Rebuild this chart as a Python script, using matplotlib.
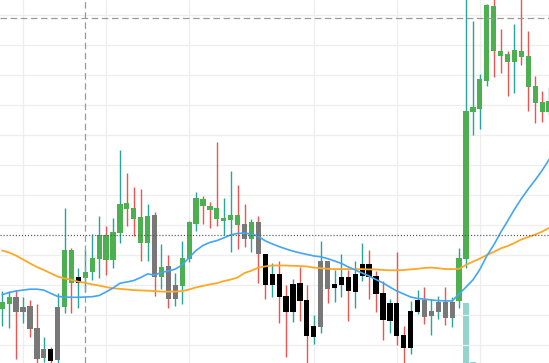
import matplotlib
matplotlib.use("Agg")
import matplotlib.pyplot as plt
from matplotlib.patches import Rectangle
import numpy as np

plt.rcParams['lines.scale_dashes'] = False

# ---- data (price units) ----
opens = [22.0, 23.8, 26.0, 21.1, 23.0, 15.6, 5.8, 8.7, 5.0, 22.8,
         41.7, 30.8, 32.4, 34.4, 38.7, 46.6, 38.3, 47.4, 57.4, 55.7,
         52.7, 44.1, 53.3, 32.8, 36.3, 25.4, 29.8, 38.8, 50.4, 58.7,
         56.3, 55.7, 51.7, 51.7, 53.3, 50.3, 45.3, 50.9, 40.3, 30.0,
         33.7, 26.3, 21.1, 30.7, 25.0, 12.8, 16.1, 38.0, 29.0, 30.1,
         32.7, 27.8, 33.1, 37.0, 33.0, 27.3, 18.1, 24.0, 13.3, 9.1,
         21.1, 25.0, 19.7, 21.1, 24.4, 19.1, 24.7, 38.7, 87.7, 88.7,
         98.0, 123.0, 108.0, 107.0, 104.3, 108.0, 106.3, 96.3, 91.0, 87.7]
highs = [28.0, 28.0, 28.3, 26.0, 25.0, 23.7, 12.7, 9.2, 27.3, 55.6,
         42.2, 35.6, 41.7, 46.9, 53.0, 49.7, 52.2, 75.0, 67.2, 62.8,
         62.0, 57.0, 54.4, 43.7, 40.0, 33.9, 44.7, 51.4, 61.0, 59.7,
         57.7, 77.7, 59.0, 68.0, 63.3, 57.0, 52.0, 53.1, 40.3, 37.3,
         38.0, 30.1, 32.0, 36.1, 30.0, 20.0, 44.7, 38.0, 35.0, 40.3,
         35.0, 38.0, 44.0, 41.7, 34.8, 31.4, 25.3, 41.0, 16.3, 24.7,
         28.3, 29.3, 25.3, 26.3, 29.3, 26.1, 42.4, 127.0, 118.0, 100.3,
         123.7, 127.0, 115.3, 108.0, 117.0, 127.0, 114.7, 99.7, 94.7, 96.0]
lows = [16.4, 15.7, 5.3, 17.4, 12.8, 3.5, 4.3, 3.8, 3.8, 20.6,
        20.8, 22.2, 27.7, 31.7, 32.4, 33.3, 35.6, 44.1, 49.7, 46.4,
        38.1, 38.1, 26.4, 28.7, 22.3, 23.1, 23.8, 37.8, 48.1, 50.3,
        49.1, 49.7, 46.6, 41.1, 42.1, 42.7, 41.1, 30.8, 25.3, 26.0,
        17.2, 6.1, 17.8, 18.1, 4.1, 10.2, 14.1, 23.9, 24.4, 26.1,
        18.1, 22.4, 31.4, 25.4, 21.1, 11.8, 14.1, 9.9, 3.8, 6.9,
        20.3, 17.0, 13.3, 18.8, 16.7, 16.1, 22.4, 35.6, 80.0, 82.0,
        96.3, 99.3, 100.7, 93.0, 94.0, 103.3, 88.0, 84.0, 84.3, 86.7]
closes = [24.4, 26.0, 21.1, 22.7, 15.4, 5.5, 8.7, 4.8, 22.7, 41.7,
          30.8, 32.7, 34.3, 39.1, 46.7, 38.3, 47.7, 57.0, 55.3, 52.0,
          44.1, 53.0, 32.8, 36.0, 25.4, 30.0, 39.0, 51.0, 58.9, 56.4,
          55.1, 51.9, 52.1, 53.3, 50.1, 45.3, 50.9, 40.3, 30.0, 33.7,
          26.1, 21.1, 30.3, 24.8, 13.1, 16.3, 38.0, 28.7, 30.3, 32.7,
          28.0, 33.7, 37.0, 32.8, 27.1, 18.4, 24.0, 13.1, 8.9, 21.3,
          25.0, 19.4, 21.3, 24.3, 19.1, 24.4, 38.9, 88.0, 89.3, 98.7,
          123.3, 108.0, 106.3, 104.3, 108.3, 106.0, 96.0, 90.7, 87.7, 91.3]
# body colour class: G green, Y gray, K black
body_class = list("GGYYYYYKYG" "GKGGGGGGGG" "GGYGYYGGGG" "GGGGGYGYKK"
                  "KKKKKKYYKK" "KKKKKKKKKK" "KYYYYYGGGG" "GGGGGGGGGG")
ma_fast = [26.8, 27.5, 28.0, 28.3, 28.6, 28.6, 28.3, 27.2, 26.2, 26.0,
           25.9, 25.9, 26.0, 26.1, 26.5, 27.7, 29.0, 30.6, 31.0, 31.5,
           32.5, 33.7, 33.3, 34.2, 34.7, 35.3, 36.7, 39.2, 41.5, 43.2,
           44.2, 44.8, 45.7, 46.7, 47.2, 47.3, 47.0, 46.2, 44.7, 43.7,
           42.8, 42.0, 41.3, 40.7, 40.2, 39.7, 39.4, 38.8, 38.0, 37.2,
           36.0, 35.0, 34.0, 33.0, 31.8, 30.7, 29.3, 28.0, 27.0, 26.0,
           25.5, 25.3, 25.0, 24.8, 24.7, 24.7, 27.0, 29.3, 31.7, 35.2,
           39.7, 43.3, 47.5, 51.3, 55.2, 58.8, 62.0, 65.0, 68.2, 71.8]
ma_slow = [41.5, 40.8, 39.8, 38.5, 37.2, 36.0, 35.0, 33.9, 32.8, 32.2,
           31.7, 31.1, 30.7, 30.2, 29.8, 29.3, 28.9, 28.7, 28.5, 28.3,
           28.2, 28.1, 28.0, 27.8, 27.8, 27.8, 28.0, 28.5, 29.2, 29.7,
           30.2, 30.6, 31.3, 31.8, 32.5, 34.0, 34.8, 35.8, 36.2, 36.5,
           36.5, 36.5, 36.4, 36.3, 36.2, 35.8, 35.6, 35.4, 35.3, 35.3,
           35.3, 35.3, 35.3, 35.2, 35.2, 35.0, 34.9, 34.9, 35.0, 35.2,
           35.4, 35.7, 35.8, 35.6, 35.3, 35.3, 35.4, 36.7, 37.8, 38.8,
           40.0, 41.0, 42.2, 43.0, 44.0, 45.2, 46.0, 46.8, 47.8, 49.0]
volume = [0] * 67 + [600, 10] + [0] * 11
grid_x_idx = [3, 15, 27, 45, 57, 69]
grid_y_vals = [10, 20, 30, 40, 50, 60, 70, 80, 90, 100, 110, 120]
crosshair_idx = 12
crosshair_price = 118.9
price_line = 46.7

# ---- style ----
body_colors = {"G": "#4caf50", "Y": "#787878", "K": "#000000"}
up_wick, down_wick = "#26a69a", "#ef5350"

fig = plt.figure(figsize=(5.49, 3.63), dpi=100)
ax = fig.add_axes([0, 0, 1, 1])
ax.set_xlim(-0.33, 78.99)
ax.set_ylim(4, 125)
ax.axis("off")

for gx in grid_x_idx:
    ax.axvline(gx, color="#eeeeee", lw=0.9, zorder=0)
for gy in grid_y_vals:
    ax.axhline(gy, color="#eeeeee", lw=0.9, zorder=0)

# volume on its own scale
axv = ax.twinx()
axv.set_ylim(0, 3630)
axv.axis("off")
x = np.arange(len(opens))
axv.bar(x, volume, width=0.78, color="#91d5cd", zorder=1)

bw = 0.76
for i in x:
    o, h, l, c = opens[i], highs[i], lows[i], closes[i]
    wc = up_wick if c >= o else down_wick
    ax.plot([i, i], [l, h], color=wc, lw=1.0, zorder=2, solid_capstyle="butt")
    lo_b, hi_b = min(o, c), max(o, c)
    if hi_b - lo_b < 0.4:
        lo_b -= 0.2
        hi_b += 0.2
    ax.add_patch(Rectangle((i - bw / 2, lo_b), bw, hi_b - lo_b,
                           facecolor=body_colors[body_class[i]], edgecolor="none", zorder=3))

ax.plot(x, ma_slow, color="#ffa726", lw=1.3, zorder=4)
ax.plot(x, ma_fast, color="#42a5f5", lw=1.2, zorder=4)

ax.axhline(price_line, color="#555555", lw=0.9, dashes=(0.8, 1.4), zorder=5)
ax.axvline(crosshair_idx, color="#9a9a9a", lw=0.9, dashes=(4.7, 2.6), zorder=6)
ax.axhline(crosshair_price, color="#9a9a9a", lw=0.9, dashes=(4.7, 2.6), zorder=6)

ax.set_zorder(axv.get_zorder() + 1)
ax.patch.set_visible(False)
axv.patch.set_visible(True)
axv.patch.set_facecolor("white")
fig.savefig("out.png", dpi=100, facecolor="white")
